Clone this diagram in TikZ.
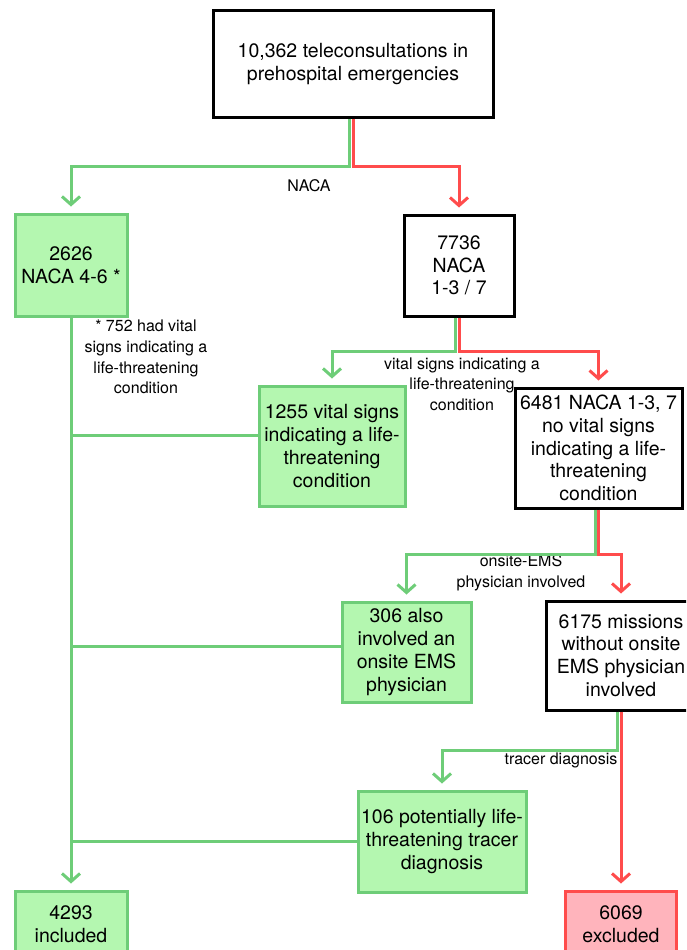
\documentclass[tikz,border=0pt]{standalone}
\usepackage{fontspec}
\setmainfont{TeX Gyre Heros}
\usetikzlibrary{arrows.meta}

\definecolor{gline}{RGB}{110,205,120}
\definecolor{gfill}{RGB}{180,247,176}
\definecolor{rline}{RGB}{255,76,76}
\definecolor{rfill}{RGB}{255,180,188}

\begin{document}
\begin{tikzpicture}[x=1pt, y=-1pt,
	box/.style={draw, line width=3pt, align=center, inner sep=0pt, font=\fontsize{19.5}{22.7}\selectfont},
	gbox/.style={box, draw=gline, fill=gfill},
	wbox/.style={box, draw=black, fill=white},
	rbox/.style={box, draw=rline, fill=rfill},
	lbl/.style={align=center, inner sep=0pt, font=\fontsize{16}{20.7}\selectfont},
	gl/.style={draw=gline, line width=3pt},
	rl/.style={draw=rline, line width=3pt},
	tip/.style={-{Straight Barb[length=8pt,width=18pt]}, shorten >=6pt}]
	\useasboundingbox (0,0) rectangle (686,950);
	\clip (0,0) rectangle (686,950);
	% levels of the splits
	\coordinate (j1) at (0,166);
	\coordinate (j2) at (0,351);
	\coordinate (j3) at (0,554);
	\coordinate (j4) at (0,750);
	% labels
	\node[lbl] (lnaca) at (309,186) {NACA};
	\node[lbl] (lnote) at (146,357) {* 752 had vital\\signs indicating a\\life-threatening\\condition};
	\node[lbl] (lvital) at (462,384) {vital signs indicating a\\life-threatening\\condition};
	\node[lbl] (lems) at (521,573) {onsite-EMS\\physician involved};
	\node[lbl] (ltracer) at (561,760) {tracer diagnosis};
	% boxes
	\node[wbox, minimum width=280pt, minimum height=106pt] (tele) at (353,64) {10,362 teleconsultations in\\prehospital emergencies};
	\node[gbox, minimum width=112pt, minimum height=102pt] (naca46) at (71,265) {2626\\NACA 4-6 *};
	\node[wbox, minimum width=110pt, minimum height=101pt] (naca13) at (459,265.5) {7736\\NACA\\1-3 / 7};
	\node[gbox, minimum width=146pt, minimum height=120pt] (vital) at (332,446) {1255 vital signs\\indicating a life-\\threatening\\condition};
	\node[wbox, minimum width=167pt, minimum height=120pt] (novital) at (598.5,448) {6481 NACA 1-3, 7\\no vital signs\\indicating a life-\\threatening\\condition};
	\node[gbox, minimum width=129pt, minimum height=100pt] (ems) at (406.5,652) {306 also\\involved an\\onsite EMS\\physician};
	\node[wbox, minimum width=150pt, minimum height=109pt] (noems) at (621,655.5) {6175 missions\\without onsite\\EMS physician\\involved};
	\node[gbox, minimum width=168pt, minimum height=101pt] (tracer) at (442,841.5) {106 potentially life-\\threatening tracer\\diagnosis};
	\node[gbox, minimum width=112pt, minimum height=66pt] (incl) at (71,924) {4293\\included};
	\node[rbox, minimum width=111pt, minimum height=66pt] (excl) at (621,924) {6069\\excluded};
	% splits
	\draw[gl, tip] ([xshift=-3.5pt]tele.south) -- ([xshift=-3.5pt]tele.south |- j1) -- (naca46.north |- j1) -- (naca46.north);
	\draw[rl, tip] (tele.south) -- (tele.south |- j1) -- (naca13.north |- j1) -- (naca13.north);
	\draw[gl, tip] ([xshift=-3.5pt]naca13.south) -- ([xshift=-3.5pt]naca13.south |- j2) -- (vital.north |- j2) -- (vital.north);
	\draw[rl, tip] (naca13.south) -- (naca13.south |- j2) -- (novital.north |- j2) -- (novital.north);
	\draw[gl, tip] ([xshift=-3.5pt]novital.south) -- ([xshift=-3.5pt]novital.south |- j3) -- (ems.north |- j3) -- (ems.north);
	\draw[rl, tip] (novital.south) -- (novital.south |- j3) -- (noems.north |- j3) -- (noems.north);
	\draw[gl, tip] ([xshift=-3.5pt]noems.south) -- ([xshift=-3.5pt]noems.south |- j4) -- (tracer.north |- j4) -- (tracer.north);
	\draw[rl, tip] (noems.south) -- (excl.north);
	% trunk of included
	\coordinate (b1) at ([yshift=11pt]vital.west);
	\coordinate (b2) at ([yshift=6pt]ems.west);
	\coordinate (b3) at (tracer.west);
	\draw[gl] (b1) -- (b1 -| naca46.south);
	\draw[gl] (b2) -- (b2 -| naca46.south);
	\draw[gl] (b3) -- (b3 -| naca46.south);
	\draw[gl, tip] (naca46.south) -- (incl.north);
\end{tikzpicture}
\end{document}
